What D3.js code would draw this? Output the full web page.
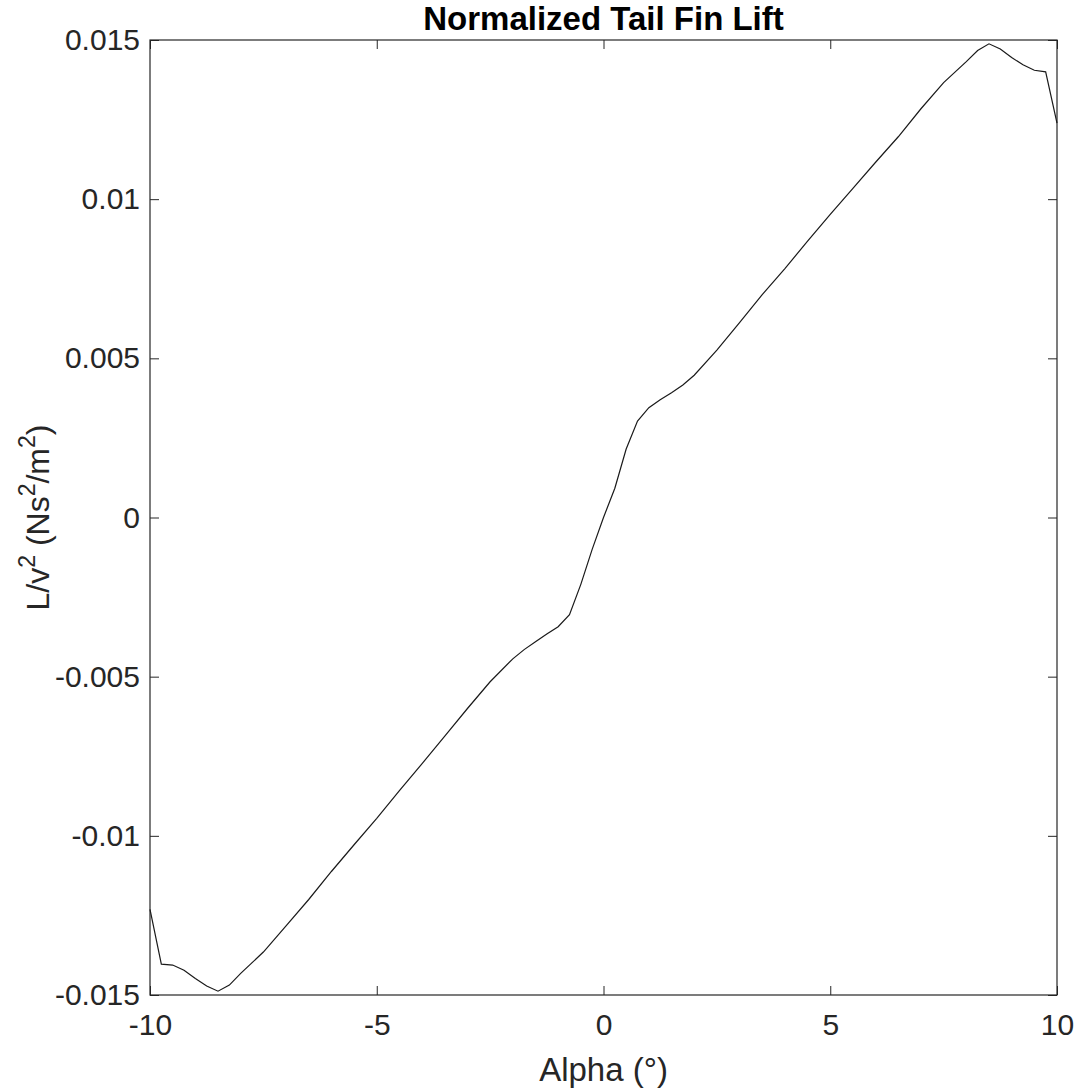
<meta charset="utf-8">
<body style="margin:0;background:#fff">
<script src="https://cdn.jsdelivr.net/npm/d3@7"></script>
<script>

    var alpha = [-10, -9.75, -9.5, -9.25, -9, -8.75, -8.5, -8.25, -8, -7.5, -7, -6.5, -6, -5.5, -5, -4.5, -4,
                 -3.5, -3, -2.5, -2, -1.75, -1.5, -1.25, -1, -0.75, -0.5, -0.25, 0,
                 0.25, 0.5, 0.75, 1, 1.25, 1.5, 1.75, 2, 2.5, 3, 3.5, 4, 4.5, 5, 5.5, 6, 6.5, 7, 7.5,
                 8, 8.25, 8.5, 8.75, 9, 9.25, 9.5, 9.75, 10];

    var lift = [-0.01231, -0.01403, -0.01406, -0.01422, -0.01448, -0.01472, -0.01488, -0.01469, -0.01432,
                -0.01365, -0.01283, -0.01200, -0.01112, -0.01028, -0.00945, -0.00858, -0.00773,
                -0.00687, -0.00600, -0.00516, -0.00444, -0.00415, -0.00390, -0.00366, -0.00343,
                -0.00305, -0.00210, -0.00100, 0.00000,
                0.00092, 0.00215, 0.00303, 0.00345, 0.00370, 0.00392, 0.00416, 0.00447, 0.00526,
                0.00612, 0.00700, 0.00782, 0.00868, 0.00952, 0.01034, 0.01116, 0.01196, 0.01284,
                0.01366, 0.01432, 0.01467, 0.01488, 0.01472, 0.01445, 0.01422, 0.01405, 0.01400, 0.01239];

    var xTicks = [-10, -5, 0, 5, 10];
    var yTicks = [-0.015, -0.01, -0.005, 0, 0.005, 0.01, 0.015];
    var yTickLabels = ["-0.015", "-0.01", "-0.005", "0", "0.005", "0.01", "0.015"];

    var outerWidth  = 1075,
        outerHeight = 1091;

    var margin = {top: 40, right: 18, bottom: 96, left: 150};

    var width  = outerWidth - margin.left - margin.right,
        height = outerHeight - margin.top - margin.bottom;

    var font = "'Liberation Sans', Arial, Helvetica, sans-serif";
    var ink  = "#262626";

    var svg = d3.select("body")
                .append("svg")
                .attr("width", outerWidth)
                .attr("height", outerHeight)
                .style("display", "block");

    var g = svg.append("g")
               .attr("transform", "translate(" + margin.left + "," + margin.top + ")");

    var x = d3.scaleLinear().domain([-10, 10]).range([0, width]);
    var y = d3.scaleLinear().domain([-0.015, 0.015]).range([height, 0]);

    // ticks point inward on all four sides, like a boxed matlab axes
    function styleAxis(sel) {
        sel.select(".domain").remove();
        sel.selectAll(".tick line").attr("stroke", ink).attr("stroke-width", 1);
        sel.selectAll(".tick text")
           .attr("fill", ink)
           .style("font-family", font)
           .style("font-size", "30px");
    }

    g.append("g")
     .attr("transform", "translate(0," + height + ")")
     .call(d3.axisBottom(x).tickValues(xTicks).tickSizeInner(-9).tickPadding(19)
             .tickFormat(function (d) { return String(d); }))
     .call(styleAxis);

    g.append("g")
     .call(d3.axisTop(x).tickValues(xTicks).tickSizeInner(-9).tickFormat(""))
     .call(styleAxis);

    g.append("g")
     .call(d3.axisLeft(y).tickValues(yTicks).tickSizeInner(-9).tickPadding(10)
             .tickFormat(function (d, i) { return yTickLabels[i]; }))
     .call(styleAxis);

    g.append("g")
     .attr("transform", "translate(" + width + ",0)")
     .call(d3.axisRight(y).tickValues(yTicks).tickSizeInner(-9).tickFormat(""))
     .call(styleAxis);

    g.append("rect")
     .attr("width", width)
     .attr("height", height)
     .attr("fill", "none")
     .attr("stroke", ink)
     .attr("stroke-width", 1.2);

    var points = alpha.map(function (a, i) { return [a, lift[i]]; });

    g.append("path")
     .datum(points)
     .attr("fill", "none")
     .attr("stroke", "#1a1a1a")
     .attr("stroke-width", 1.2)
     .attr("d", d3.line()
                  .x(function (d) { return x(d[0]); })
                  .y(function (d) { return y(d[1]); }));

    svg.append("text")
       .attr("x", margin.left + width / 2)
       .attr("y", 30)
       .attr("text-anchor", "middle")
       .style("font-family", font)
       .style("font-size", "33px")
       .style("font-weight", "bold")
       .attr("fill", "#000")
       .text("Normalized Tail Fin Lift");

    svg.append("text")
       .attr("x", margin.left + width / 2)
       .attr("y", 1081)
       .attr("text-anchor", "middle")
       .style("font-family", font)
       .style("font-size", "33px")
       .attr("fill", ink)
       .text("Alpha (°)");

    var yl = svg.append("text")
       .attr("transform", "translate(49," + (margin.top + height / 2) + ") rotate(-90)")
       .attr("text-anchor", "middle")
       .style("font-family", font)
       .style("font-size", "32px")
       .attr("fill", ink);

    yl.append("tspan").text("L/v");
    yl.append("tspan").attr("dy", -14).style("font-size", "23px").text("2");
    yl.append("tspan").attr("dy", 14).text(" (Ns");
    yl.append("tspan").attr("dy", -14).style("font-size", "23px").text("2");
    yl.append("tspan").attr("dy", 14).text("/m");
    yl.append("tspan").attr("dy", -14).style("font-size", "23px").text("2");
    yl.append("tspan").attr("dy", 14).text(")");

</script>
</body>
